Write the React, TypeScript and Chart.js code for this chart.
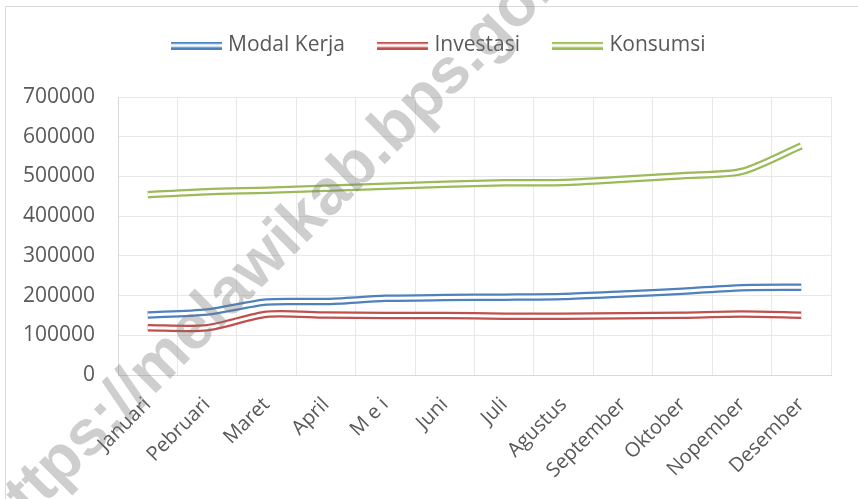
import React, { useEffect, useRef } from "react";
import { Chart, registerables } from "chart.js";

Chart.register(...registerables);

const categories = ["Januari", "Pebruari", "Maret", "April", "M e i", "Juni", "Juli", "Agustus", "September", "Oktober", "Nopember", "Desember"];
const seriesNames = ["Modal Kerja", "Investasi", "Konsumsi"];
const modalKerja = [151000, 158700, 184000, 185000, 193000, 195000, 196000, 197700, 204000, 211000, 220000, 221000];
const investasi = [119000, 119000, 153000, 151000, 150000, 150000, 148000, 148000, 149500, 150700, 153600, 150700];
const konsumsi = [454000, 461700, 465000, 470000, 475000, 480000, 484000, 485000, 493000, 502000, 512600, 577000];
const yMin = 0;
const yMax = 700000;
const yStep = 100000;
const watermarkText = "https://melawikab.bps.go.id";

const colors = ["#4f81bd", "#c0504d", "#9bbb59"];
const textColor = "#595959";
const fontFamily = '"Open Sans", sans-serif';

function makeSample(color: string) {
  const c = document.createElement("canvas");
  c.width = 51;
  c.height = 8;
  const g = c.getContext("2d")!;
  g.fillStyle = color;
  g.fillRect(0, 0, 51, 2.5);
  g.fillRect(0, 5.5, 51, 2.5);
  return c;
}

export default function App() {
  const ref = useRef<HTMLCanvasElement | null>(null);

  useEffect(() => {
    if (!ref.current) return;
    const seriesData = [modalKerja, investasi, konsumsi];
    const samples = colors.map(makeSample);
    const tension = 0.25;

    const legendSpacer = {
      id: "legendSpacer",
      beforeInit(chart: any) {
        const legend = chart.legend;
        if (!legend) return;
        const orig = legend.fit;
        legend.fit = function () {
          orig.call(this);
          this.height += 31;
          if (this.lineWidths) this.lineWidths = this.lineWidths.map((w: number) => w - 50);
        };
      },
    };

    const watermark = {
      id: "watermark",
      afterDraw(chart: any) {
        const ctx = chart.ctx;
        ctx.save();
        ctx.translate(2, 551);
        ctx.rotate(-Math.PI / 4);
        ctx.font = 'bold 64px "Liberation Sans", sans-serif';
        ctx.fillStyle = "rgba(120,120,120,0.36)";
        ctx.textBaseline = "alphabetic";
        ctx.textAlign = "left";
        ctx.fillText(watermarkText, 0, 0);
        ctx.restore();
      },
    };

    const chart = new Chart(ref.current, {
      type: "line",
      data: {
        labels: categories,
        datasets: [
          ...seriesNames.map((name, i) => ({
            label: name + " (inner)",
            data: seriesData[i],
            borderColor: "#ffffff",
            borderWidth: 3,
            pointRadius: 0,
            tension,
            fill: false,
          })),
          ...seriesNames.map((name, i) => ({
            label: name,
            data: seriesData[i],
            borderColor: colors[i],
            backgroundColor: colors[i],
            borderWidth: 7.5,
            pointRadius: 0,
            tension,
            fill: false,
          })),
        ],
      },
      options: {
        responsive: false,
        animation: false,
        layout: { padding: { left: 0, right: 27, top: 2, bottom: 0 } },
        plugins: {
          tooltip: { enabled: false },
          legend: {
            position: "top",
            labels: {
              usePointStyle: true,
              pointStyleWidth: 42,
              padding: 37,
              color: textColor,
              font: { family: fontFamily, size: 21 },
              generateLabels: () =>
                seriesNames.map((name, i) => ({
                  text: name,
                  pointStyle: samples[i] as any,
                  fillStyle: colors[i],
                  strokeStyle: colors[i],
                  lineWidth: 0,
                  hidden: false,
                  datasetIndex: i + 3,
                  fontColor: textColor,
                })),
            },
          },
        },
        scales: {
          x: {
            offset: true,
            grid: { offset: true, color: "#e8e8e8", drawTicks: false, lineWidth: 1 },
            border: { color: "#d9d9d9" },
            ticks: {
              color: textColor,
              font: { family: fontFamily, size: 20 },
              maxRotation: 45,
              minRotation: 45,
              padding: 18,
              autoSkip: false,
            },
            afterFit: (s: any) => {
              s.height = 124;
            },
          },
          y: {
            min: yMin,
            max: yMax,
            grid: { color: "#e8e8e8", drawTicks: false },
            border: { color: "#d9d9d9" },
            ticks: {
              stepSize: yStep,
              color: textColor,
              font: { family: fontFamily, size: 21 },
              padding: 23,
              callback: (v: any) => String(v),
            },
            afterFit: (s: any) => {
              s.width = 118;
            },
          },
        },
      },
      plugins: [legendSpacer, watermark],
    });
    return () => chart.destroy();
  }, []);

  return (
    <div style={{ position: "absolute", left: 0, top: 0, width: 858, height: 499, overflow: "hidden", background: "#ffffff" }}>
      <div style={{ position: "absolute", left: 5, top: 6, width: 900, height: 600, border: "1px solid #d9d9d9" }} />
      <canvas ref={ref} width={858} height={503} style={{ position: "absolute", left: 0, top: -4, width: 858, height: 503 }} />
    </div>
  );
}
